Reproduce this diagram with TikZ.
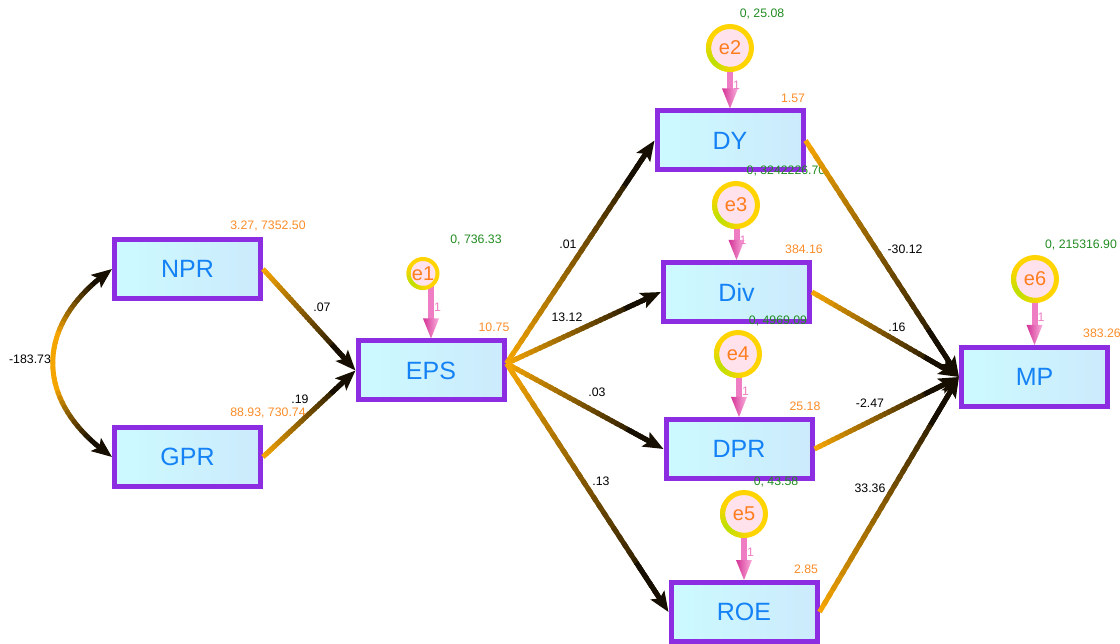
\documentclass[tikz,border=0pt]{standalone}
\usepackage{fontspec}
\setmainfont{Liberation Sans}
\usetikzlibrary{calc,arrows.meta}
\definecolor{edgeor}{RGB}{245,165,0}
\definecolor{edgedk}{RGB}{22,14,0}
\definecolor{boxA}{RGB}{204,250,255}
\definecolor{boxB}{RGB}{204,234,252}
\definecolor{boxline}{RGB}{140,45,225}
\definecolor{boxtext}{RGB}{20,130,245}
\definecolor{ringgold}{RGB}{255,212,0}
\definecolor{ringgreen}{RGB}{185,225,0}
\definecolor{errfill}{RGB}{255,226,236}
\definecolor{errtext}{RGB}{255,125,30}
\definecolor{varor}{RGB}{250,140,40}
\definecolor{vargreen}{RGB}{34,139,34}
\definecolor{pinkA}{RGB}{238,125,195}
\definecolor{pinkB}{RGB}{212,50,150}
\definecolor{pinkC}{RGB}{250,175,220}
\pgfdeclarelayer{bg}
\pgfsetlayers{bg,main}

% straight gradient connector: orange at start, dark at end
\newcommand{\gradedge}[2]{%
  \coordinate (gS) at (#1);%
  \coordinate (gE) at ($(#2)!17pt!(#1)$);%
  \foreach \k in {0,...,29}{%
    \pgfmathtruncatemacro\cc{100-\k*100/29}%
    \pgfmathsetmacro\ka{\k/30}%
    \pgfmathsetmacro\kb{min(\k+1.6,30)/30}%
    \draw[edgeline,color=edgeor!\cc!edgedk] ($(gS)!\ka!(gE)$) -- ($(gS)!\kb!(gE)$);%
  }%
  \draw[edgeline,color=edgedk,-{Stealth[length=20pt,width=16pt,inset=4pt]}] ($(gS)!0.85!(gE)$) -- (#2);%
}
% error arrow from circle to box
\newcommand{\errarrow}[3]{%
  \begin{pgfonlayer}{bg}
    \draw[line width=6pt,pinkA] (#1.center -| #2.north) -- ($(#2.north)+(0,-19)$);
  \end{pgfonlayer}
  \shade[left color=pinkB,right color=pinkC] ($(#2.north)+(-8,-20)$) -- (#2.north) -- ($(#2.north)+(8,-20)$) -- cycle;
  \node[onelab,anchor=west] (#3) at ($($(#1.south -| #2.north)!0.35!(#2.north)$)+(3,0)$) {1};
}
% tint of ring
\newcommand{\ringtint}[3]{%
  \foreach \a in {80,90,...,200}{%
    \pgfmathtruncatemacro\w{max(0,100-abs(\a+5-140)*100/65)}%
    \draw[line width=#3,color=ringgreen!\w!ringgold] ($(#1.center)+(\a:#2)$) arc[start angle=\a,end angle=\a+11,radius=#2];%
  }%
}

\begin{document}
\begin{tikzpicture}[x=1pt,y=-1pt,
  obsbox/.style={rectangle,draw=boxline,line width=5pt,left color=boxA,right color=boxB,
    minimum width=146pt,minimum height=59pt,inner sep=0pt,text=boxtext,font=\fontsize{25}{28}\selectfont},
  errc/.style={circle,draw=ringgold,line width=5pt,fill=errfill,minimum size=43pt,inner sep=0pt,
    text=errtext,font=\fontsize{20}{22}\selectfont},
  varlab/.style={inner sep=0pt,font=\fontsize{12.3}{14}\selectfont},
  orlab/.style={varlab,text=varor},
  grlab/.style={varlab,text=vargreen},
  edgelab/.style={varlab,text=black},
  onelab/.style={inner sep=0pt,font=\fontsize{12.3}{14}\selectfont,text=pinkA},
  edgeline/.style={line width=5pt}]
\useasboundingbox (0,0) rectangle (1120,644);

% observed variables
\node[obsbox] (NPR) at (187.5,269) {NPR};
\node[obsbox] (GPR) at (187.5,457) {GPR};
\node[obsbox] (EPS) at (431,370.5) {EPS};
\node[obsbox] (DY)  at (730,140.5) {DY};
\node[obsbox] (Div) at (736.5,292) {Div};
\node[obsbox] (DPR) at (739,449) {DPR};
\node[obsbox] (ROE) at (744,612) {ROE};
\node[obsbox] (MP)  at (1034.5,377) {MP};

% error terms
\node[errc,line width=4pt,minimum size=29pt] (e1) at (423,273.5) {e1};
\node[errc] (e2) at (730,48) {e2};
\node[errc] (e3) at (736,205) {e3};
\node[errc] (e4) at (738,354) {e4};
\node[errc] (e5) at (744,514) {e5};
\node[errc] (e6) at (1035,279) {e6};
\ringtint{e1}{14.5}{4pt}
\ringtint{e2}{21.5}{5pt}
\ringtint{e3}{21.5}{5pt}
\ringtint{e4}{21.5}{5pt}
\ringtint{e5}{21.5}{5pt}
\ringtint{e6}{21.5}{5pt}

\errarrow{e1}{EPS}{o1}
\errarrow{e2}{DY}{o2}
\errarrow{e3}{Div}{o3}
\errarrow{e4}{DPR}{o4}
\errarrow{e5}{ROE}{o5}
\errarrow{e6}{MP}{o6}

% variance / intercept labels
\node[orlab] (vNPR) at (268,226) {3.27, 7352.50};
\node[orlab] (vGPR) at (268,413) {88.93, 730.74};
\node[grlab] (ve1) at (476,240) {0, 736.33};
\node[orlab] (vEPS) at (494,327) {10.75};
\node[grlab] (ve2) at (762,14) {0, 25.08};
\node[orlab] (vDY) at (793,98) {1.57};
\node[grlab] (ve3) at (786,171) {0, 3242226.70};
\node[orlab] (vDiv) at (804,249) {384.16};
\node[grlab] (ve4) at (778,321) {0, 4969.09};
\node[orlab] (vDPR) at (805,406) {25.18};
\node[grlab] (ve5) at (776,482) {0, 43.58};
\node[orlab] (vROE) at (806,569) {2.85};
\node[grlab] (ve6) at (1081,245) {0, 215316.90};
\node[orlab] (vMP) at (1102,333) {383.26};

% covariance curve NPR <-> GPR
\path (NPR.west) .. controls +(-79,55) and +(-79,-55) .. (GPR.west)
  \foreach \k in {0,...,40}{coordinate[pos=\k/40] (cv\k)};
\foreach \k in {3,...,36}{%
  \pgfmathtruncatemacro\kn{\k+1}%
  \pgfmathtruncatemacro\cc{max(0,min(100,(min(\k,39-\k)-3)*100/11))}%
  \draw[edgeline,line cap=round,color=edgeor!\cc!edgedk] (cv\k) -- (cv\kn);%
}
\draw[edgeline,color=edgedk,-{Stealth[length=20pt,width=16pt,inset=4pt]}] (cv3) -- (NPR.west);
\draw[edgeline,color=edgedk,-{Stealth[length=20pt,width=16pt,inset=4pt]}] (cv37) -- (GPR.west);

% regression paths
\coordinate (EPSo) at ($(EPS.east)+(0,-7)$);
\gradedge{NPR.east}{EPS.west}
\gradedge{GPR.east}{EPS.west}
\gradedge{EPSo}{DY.west}
\gradedge{EPSo}{Div.west}
\gradedge{EPSo}{DPR.west}
\gradedge{EPSo}{ROE.west}
\gradedge{DY.east}{MP.west}
\gradedge{Div.east}{MP.west}
\gradedge{DPR.east}{MP.west}
\gradedge{ROE.east}{MP.west}

% path coefficients
\node[edgelab] (c0) at (30,359) {-183.73};
\node[edgelab] (c1) at (322,307) {.07};
\node[edgelab] (c2) at (300,399) {.19};
\node[edgelab] (c3) at (568,244) {.01};
\node[edgelab] (c4) at (567,317) {13.12};
\node[edgelab] (c5) at (597,392) {.03};
\node[edgelab] (c6) at (601,481) {.13};
\node[edgelab] (c7) at (905,249) {-30.12};
\node[edgelab] (c8) at (897,327) {.16};
\node[edgelab] (c9) at (870,403) {-2.47};
\node[edgelab] (c10) at (870,488) {33.36};
\end{tikzpicture}
\end{document}
